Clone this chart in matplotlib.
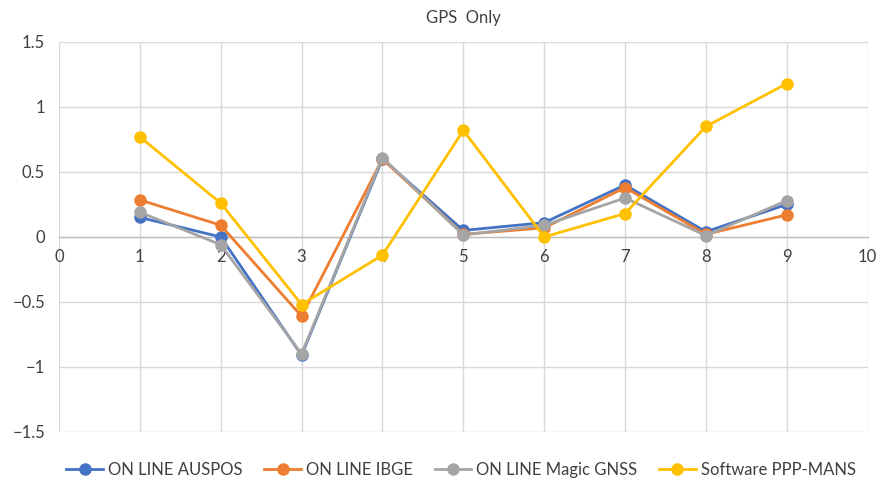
import matplotlib
matplotlib.use("Agg")
import matplotlib.pyplot as plt

x = [1, 2, 3, 4, 5, 6, 7, 8, 9]
auspos = [0.15, 0.00, -0.91, 0.60, 0.05, 0.11, 0.40, 0.04, 0.25]
ibge = [0.285, 0.09, -0.61, 0.60, 0.02, 0.07, 0.38, 0.02, 0.17]
magic = [0.19, -0.06, -0.90, 0.61, 0.015, 0.09, 0.30, 0.01, 0.28]
pppmans = [0.77, 0.26, -0.52, -0.14, 0.82, 0.00, 0.18, 0.85, 1.18]
labels = ["ON LINE AUSPOS", "ON LINE IBGE", "ON LINE Magic GNSS", "Software PPP-MANS"]
colors = ["#4472C4", "#ED7D31", "#A5A5A5", "#FFC000"]

plt.rcParams['font.family'] = ['Lato', 'DejaVu Sans']
fig = plt.figure(figsize=(8.8, 4.88), dpi=100)
ax = fig.add_axes([0.067, 0.115, 0.919, 0.799])

for ys, lab, c in zip([auspos, ibge, magic, pppmans], labels, colors):
    ax.plot(x, ys, color=c, lw=2.0, marker='o', markersize=8, label=lab, zorder=3)

ax.set_xlim(0, 10)
ax.set_ylim(-1.5, 1.5)
ax.set_xticks(range(0, 11))
ax.set_yticks([-1.5, -1, -0.5, 0, 0.5, 1, 1.5])
ax.set_yticklabels(["\u22121.5", "\u22121", "\u22120.5", "0", "0.5", "1", "1.5"])
ax.grid(True, color="#D9D9D9", lw=1.0, zorder=0)
for s in ['top', 'right', 'left']:
    ax.spines[s].set_visible(False)
ax.spines['bottom'].set_position(('data', 0))
ax.spines['bottom'].set_color("#BFBFBF")
ax.spines['bottom'].set_linewidth(1.0)
ax.tick_params(axis='both', length=0, labelsize=12, colors="#404040")
ax.tick_params(axis='x', pad=9)
ax.tick_params(axis='y', pad=10)
for t in ax.get_yticklabels():
    t.set_horizontalalignment('right')

ax.set_title("GPS  Only", fontsize=12, color="#404040", pad=14)
fig.legend(loc='center', bbox_to_anchor=(0.524, 0.037), ncol=4, frameon=False,
           fontsize=12, handlelength=2.2, columnspacing=1.3, handletextpad=0.3,
           labelcolor="#404040")
fig.savefig("out.png", dpi=100)
